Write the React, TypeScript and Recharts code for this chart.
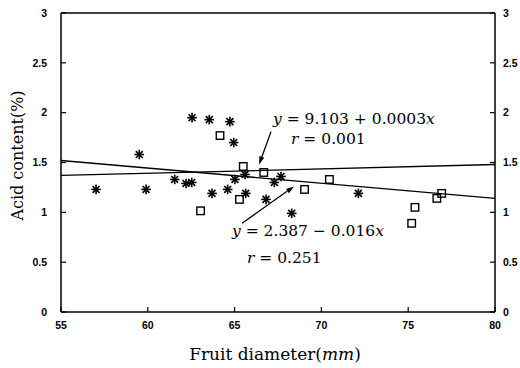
import React from 'react';
import { ScatterChart, Scatter, XAxis, YAxis, ReferenceLine, ReferenceDot } from 'recharts';

// Tick values
const xTicks = [55, 60, 65, 70, 75, 80];
const yTicks = [0, 0.5, 1, 1.5, 2, 2.5, 3];

// Asterisk series (fruit diameter mm, acid %)
const starX = [62.55, 63.54, 64.73, 64.95, 59.51, 57.02, 59.9, 61.55, 62.2, 62.53, 63.7, 64.6, 65.02, 65.6, 65.64, 66.81, 67.29, 67.67, 68.29, 72.13];
const starY = [1.95, 1.93, 1.91, 1.70, 1.58, 1.23, 1.23, 1.33, 1.29, 1.30, 1.19, 1.23, 1.33, 1.38, 1.19, 1.13, 1.30, 1.36, 0.99, 1.19];

// Open-square series
const boxX = [64.16, 63.04, 65.28, 65.5, 66.68, 69.03, 70.46, 75.39, 75.2, 76.65, 76.93];
const boxY = [1.77, 1.015, 1.13, 1.46, 1.40, 1.23, 1.33, 1.05, 0.89, 1.14, 1.19];

// Regression lines end points
const lineX = [55, 80];
const fitFlatY = [1.37, 1.48];
const fitDecY = [1.52, 1.14];

// Annotation anchors (data coordinates)
const eq1Pos = { x: 67.21, y: 1.89 };
const r1Pos = { x: 68.25, y: 1.69 };
const eq2Pos = { x: 64.85, y: 0.76 };
const r2Pos = { x: 65.71, y: 0.49 };
const arrow1 = [{ x: 67.1, y: 1.81 }, { x: 66.41, y: 1.48 }];
const arrow2 = [{ x: 65.43, y: 0.89 }, { x: 68.42, y: 1.26 }];

const starData = starX.map((x, i) => ({ x, y: starY[i] }));
const boxData = boxX.map((x, i) => ({ x, y: boxY[i] }));

const tickStyle = { fontFamily: 'Liberation Sans, Arial, sans-serif', fontWeight: 700, fontSize: 10.5, fill: '#000' };
const serif = 'DejaVu Serif, serif';

const Asterisk = (p: any) => {
  const { cx, cy } = p;
  if (typeof cx !== 'number') return <g />;
  const r = 4.8;
  const d = r * 0.72;
  return (
    <g stroke="#000" strokeWidth={1.6}>
      <line x1={cx} y1={cy - r} x2={cx} y2={cy + r} />
      <line x1={cx - r} y1={cy} x2={cx + r} y2={cy} />
      <line x1={cx - d} y1={cy - d} x2={cx + d} y2={cy + d} />
      <line x1={cx - d} y1={cy + d} x2={cx + d} y2={cy - d} />
    </g>
  );
};

const Box = (p: any) => {
  const { cx, cy } = p;
  if (typeof cx !== 'number') return <g />;
  const s = 7.5;
  return <rect x={cx - s / 2} y={cy - s / 2} width={s} height={s} fill="none" stroke="#000" strokeWidth={1.4} />;
};

const Nothing = () => <g />;

const ArrowShape = (p: any) => {
  const { x1, y1, x2, y2 } = p;
  if ([x1, y1, x2, y2].some((v) => typeof v !== 'number' || isNaN(v))) return <g />;
  const ang = Math.atan2(y2 - y1, x2 - x1);
  const L = 8;
  const W = 2.6;
  const bx = x2 - L * Math.cos(ang);
  const by = y2 - L * Math.sin(ang);
  const px = -Math.sin(ang) * W;
  const py = Math.cos(ang) * W;
  return (
    <g>
      <line x1={x1} y1={y1} x2={bx} y2={by} stroke="#000" strokeWidth={1.3} />
      <polygon points={`${x2},${y2} ${bx + px},${by + py} ${bx - px},${by - py}`} fill="#000" />
    </g>
  );
};

const textShape = (content: React.ReactNode) => (p: any) => {
  const { cx, cy } = p;
  if (typeof cx !== 'number') return <g />;
  return (
    <text x={cx} y={cy} fontFamily={serif} fontSize={15.5} fill="#000" textAnchor="start">
      {content}
    </text>
  );
};

const it = (s: string) => <tspan fontStyle="italic">{s}</tspan>;

const XTitle = (props: any) => {
  const vb = props.viewBox || { x: 61, y: 312, width: 434, height: 56 };
  return (
    <text x={vb.x + vb.width / 2 - 3} y={vb.y + 48} fontFamily={serif} fontSize={17} fill="#000" textAnchor="middle">
      Fruit diameter({it('mm')})
    </text>
  );
};

const YTitle = (props: any) => {
  const vb = props.viewBox || { x: 0, y: 12, width: 61, height: 300 };
  const cx = vb.x + 17;
  const cy = vb.y + vb.height / 2 - 7;
  return (
    <text x={cx} y={cy} transform={`rotate(-90 ${cx} ${cy})`} dy="0.35em" fontFamily={serif} fontSize={16} fill="#000" textAnchor="middle">
      Acid content(%)
    </text>
  );
};

export default function App() {
  return (
    <div style={{ position: 'absolute', left: 0, top: 0, width: 520, height: 368, background: '#fff' }}>
      <ScatterChart width={520} height={368} margin={{ top: 12, right: 0, bottom: 0, left: 0 }}>
        <XAxis
          xAxisId="b"
          dataKey="x"
          type="number"
          domain={[55, 80]}
          ticks={xTicks}
          orientation="bottom"
          height={56}
          tickSize={-5}
          tickMargin={15}
          axisLine={{ stroke: '#000', strokeWidth: 1.5 }}
          tickLine={{ stroke: '#000', strokeWidth: 1.2 }}
          tick={tickStyle}
          interval={0}
          label={<XTitle />}
        />
        <XAxis
          xAxisId="t"
          dataKey="x"
          type="number"
          domain={[55, 80]}
          ticks={xTicks}
          orientation="top"
          height={1}
          tick={false}
          tickLine={false}
          axisLine={{ stroke: '#000', strokeWidth: 1.5 }}
        />
        <YAxis
          yAxisId="l"
          dataKey="y"
          type="number"
          domain={[0, 3]}
          ticks={yTicks}
          orientation="left"
          width={61}
          tickSize={-5}
          tickMargin={19}
          axisLine={{ stroke: '#000', strokeWidth: 1.5 }}
          tickLine={{ stroke: '#000', strokeWidth: 1.2 }}
          tick={tickStyle}
          interval={0}
          label={<YTitle />}
        />
        <YAxis
          yAxisId="r"
          dataKey="y"
          type="number"
          domain={[0, 3]}
          ticks={yTicks}
          orientation="right"
          width={25}
          tickSize={-5}
          tickMargin={13}
          axisLine={{ stroke: '#000', strokeWidth: 1.5 }}
          tickLine={{ stroke: '#000', strokeWidth: 1.2 }}
          tick={tickStyle}
          interval={0}
        />
        <ReferenceLine
          xAxisId="b"
          yAxisId="l"
          segment={[{ x: lineX[0], y: fitFlatY[0] }, { x: lineX[1], y: fitFlatY[1] }]}
          stroke="#000"
          strokeWidth={1.3}
        />
        <ReferenceLine
          xAxisId="b"
          yAxisId="l"
          segment={[{ x: lineX[0], y: fitDecY[0] }, { x: lineX[1], y: fitDecY[1] }]}
          stroke="#000"
          strokeWidth={1.3}
        />
        <Scatter xAxisId="t" yAxisId="r" data={starData} shape={<Nothing />} isAnimationActive={false} />
        <Scatter xAxisId="b" yAxisId="l" data={starData} shape={<Asterisk />} isAnimationActive={false} />
        <Scatter xAxisId="b" yAxisId="l" data={boxData} shape={<Box />} isAnimationActive={false} />
        <ReferenceLine xAxisId="b" yAxisId="l" segment={arrow1} shape={ArrowShape} />
        <ReferenceLine xAxisId="b" yAxisId="l" segment={arrow2} shape={ArrowShape} />
        <ReferenceDot xAxisId="b" yAxisId="l" x={eq1Pos.x} y={eq1Pos.y} r={1} shape={textShape(<>{it('y')}{' = 9.103 + 0.0003'}{it('x')}</>)} />
        <ReferenceDot xAxisId="b" yAxisId="l" x={r1Pos.x} y={r1Pos.y} r={1} shape={textShape(<>{it('r')}{' = 0.001'}</>)} />
        <ReferenceDot xAxisId="b" yAxisId="l" x={eq2Pos.x} y={eq2Pos.y} r={1} shape={textShape(<>{it('y')}{' = 2.387 \u2212 0.016'}{it('x')}</>)} />
        <ReferenceDot xAxisId="b" yAxisId="l" x={r2Pos.x} y={r2Pos.y} r={1} shape={textShape(<>{it('r')}{' = 0.251'}</>)} />
      </ScatterChart>
    </div>
  );
}
